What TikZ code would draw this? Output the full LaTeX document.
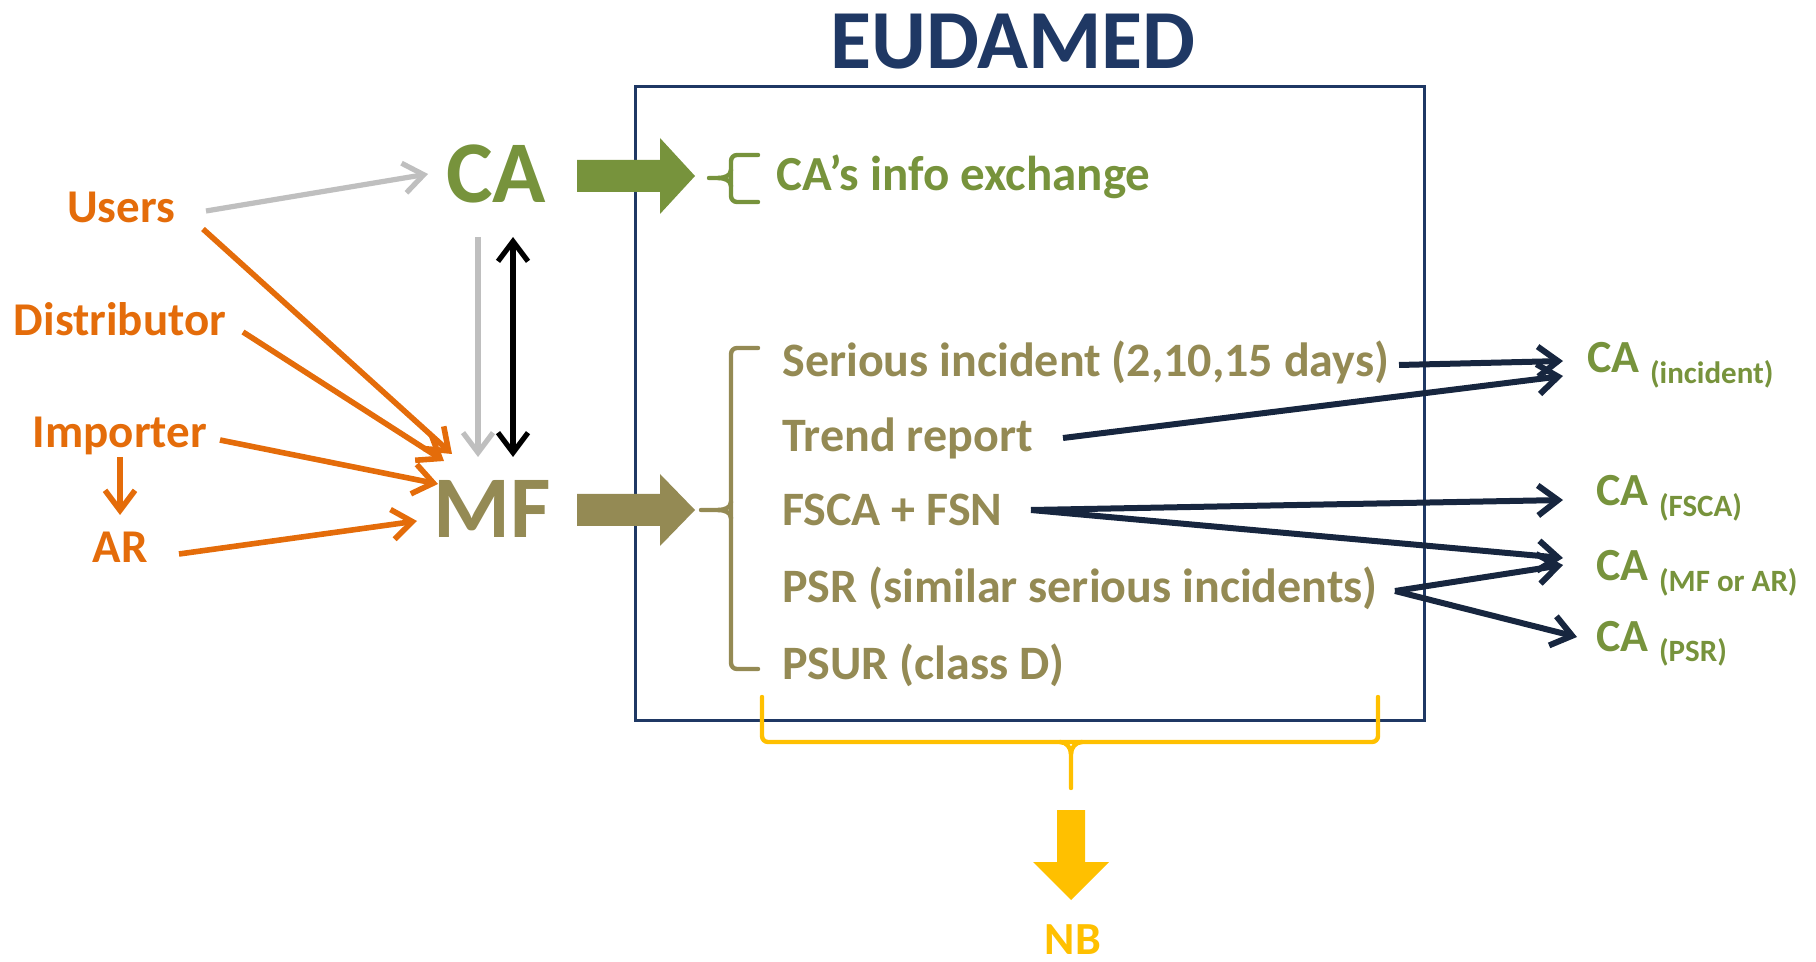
\documentclass[tikz,border=0pt]{standalone}
\usepackage{fontspec}
\setmainfont{Carlito}
\usetikzlibrary{arrows.meta,calc}
\definecolor{cagreen}{HTML}{77933C}
\definecolor{mfolive}{HTML}{948A54}
\definecolor{orng}{HTML}{E46C0A}
\definecolor{navy}{HTML}{1F3864}
\definecolor{darknavy}{HTML}{17263F}
\definecolor{gold}{HTML}{FFC000}
\definecolor{lgray}{HTML}{BFBFBF}
\newcommand{\subtxt}[1]{\raisebox{-5.5pt}{\fontsize{15.5}{18}\selectfont #1}}
\tikzset{mybarb/.tip={Straight Barb[length=10pt,width=15pt]}}
\begin{document}
\begin{tikzpicture}[x=0.5pt,y=-0.5pt,
  lbl/.style={inner sep=0pt, font=\fontsize{23.5}{28}\selectfont\bfseries},
  orlbl/.style={lbl, text=orng, anchor=base},
  item/.style={inner sep=0pt, font=\fontsize{24}{28}\selectfont\bfseries, text=mfolive, anchor=base west},
  calbl/.style={inner sep=0pt, font=\fontsize{23}{27}\selectfont\bfseries, text=cagreen, anchor=base west},
  big/.style={inner sep=0pt, font=\fontsize{44}{50}\selectfont\bfseries, anchor=base},
  oarr/.style={draw=orng, line width=2.8pt, -{mybarb}},
  garr/.style={draw=lgray, line width=2.6pt, -{mybarb}},
  barr/.style={draw=black, line width=2.6pt, {mybarb}-{mybarb}},
  narr/.style={draw=darknavy, line width=3pt, -{mybarb}},
  bracepath/.style={line width=2.2pt, line cap=round},
  eudbox/.style={draw=navy, line width=1.5pt, minimum width=394.5pt, minimum height=316.5pt, inner sep=0pt}
]
\useasboundingbox (0,0) rectangle (1816,962);

% title and box
\node[big, text=navy, font=\fontsize{42}{48}\selectfont\bfseries] (title) at (1013,69) {EUDAMED};
\node[eudbox] (box) at (1029.5,403.5) {};

% main actors
\node[big, text=cagreen] (ca) at (496,203) {CA};
\node[big, text=mfolive] (mf) at (492,538) {MF};

% left labels
\node[orlbl] (users) at (121,223) {Users};
\node[orlbl] (distr) at (120,336) {Distributor};
\node[orlbl] (imp) at (120,448) {Importer};
\node[orlbl] (ar) at (120,563) {AR};

% info exchange
\node[lbl, text=cagreen, anchor=base west, font=\fontsize{24.5}{29}\selectfont\bfseries] (info) at (776,191) {CA’s info exchange};

% list items
\node[item] (serious) at (782,377) {Serious incident (2,10,15 days)};
\node[item] (trend) at (782,452) {Trend report};
\node[item] (fsca) at (782,525) {FSCA + FSN};
\node[item] (psr) at (782,603) {PSR (similar serious incidents)};
\node[item] (psur) at (782,679) {PSUR (class D)};

% right CA labels
\node[calbl] (cainc) at (1587,373) {CA \subtxt{(incident)}};
\node[calbl] (cafsca) at (1596,506) {CA \subtxt{(FSCA)}};
\node[calbl] (camf) at (1596,581) {CA \subtxt{(MF or AR)}};
\node[calbl] (capsr) at (1596,651) {CA \subtxt{(PSR)}};

% NB
\node[lbl, text=gold, anchor=base, font=\fontsize{23}{27}\selectfont\bfseries] (nb) at (1073,954) {NB};

% left arrows
\draw[garr] ([shift={(85,-12)}]users.base) -- ([shift={(-68,-29)}]ca.base);
\draw[oarr] ([shift={(82,6)}]users.base) -- ([shift={(-40,-84)}]mf.base);
\draw[oarr] ([shift={(123,-4)}]distr.base) -- ([shift={(-48,-77)}]mf.base);
\draw[oarr] ([shift={(100,-8)}]imp.base) -- ([shift={(-54,-54)}]mf.base);
\draw[oarr] ([shift={(59,-9)}]ar.base) -- ([shift={(-75,-17)}]mf.base);
\draw[oarr] ([shift={(0,9)}]imp.base) -- ([shift={(0,-48)}]ar.base);
\draw[garr] ([shift={(-18,34)}]ca.base) -- ([shift={(-14,-81)}]mf.base);
\draw[barr] ([shift={(17,34)}]ca.base) -- ([shift={(21,-81)}]mf.base);

% big block arrows
\fill[cagreen] (577,160) -- (660,160) -- (660,138) -- (695,176) -- (660,214) -- (660,192) -- (577,192) -- cycle;
\fill[mfolive] (577,494) -- (660,494) -- (660,474) -- (695,510) -- (660,546) -- (660,526) -- (577,526) -- cycle;

% braces
\draw[cagreen, bracepath, rounded corners=3pt] (758,155) -- (731,155) -- (731,202) -- (758,202);
\draw[cagreen, bracepath] (731,170) to[out=-90,in=0] (718,178) -- (709,178);
\draw[cagreen, bracepath] (731,186) to[out=90,in=0] (718,178);
\draw[mfolive, bracepath, rounded corners=3pt] (758,348) -- (731,348) -- (731,669) -- (758,669);
\draw[mfolive, bracepath] (731,502) to[out=-90,in=0] (718,510) -- (701,510);
\draw[mfolive, bracepath] (731,518) to[out=90,in=0] (718,510);
\draw[gold, bracepath, rounded corners=3pt] (762,697) -- (762,742) -- (1378,742) -- (1378,697);
\draw[gold, bracepath] (1060,742) to[out=0,in=90] (1071,754) -- (1071,788);
\draw[gold, bracepath] (1082,742) to[out=180,in=90] (1071,754);

% yellow block arrow to NB
\fill[gold] (1057,810) -- (1085,810) -- (1085,862) -- (1109,862) -- (1071,900) -- (1033,862) -- (1057,862) -- cycle;

% navy arrows
\draw[narr] ([shift={(617,-12)}]serious.base west) -- ([shift={(-24,-12)}]cainc.base west);
\draw[narr] ([shift={(281,-14)}]trend.base west) -- ([shift={(-24,3)}]cainc.base west);
\draw[narr] ([shift={(249,-15)}]fsca.base west) -- ([shift={(-33,-6)}]cafsca.base west);
\draw[narr] ([shift={(249,-15)}]fsca.base west) -- ([shift={(-33,-23)}]camf.base west);
\draw[narr] ([shift={(613,-12)}]psr.base west) -- ([shift={(-33,-16)}]camf.base west);
\draw[narr] ([shift={(613,-12)}]psr.base west) -- ([shift={(-19,-14)}]capsr.base west);
\end{tikzpicture}
\end{document}
